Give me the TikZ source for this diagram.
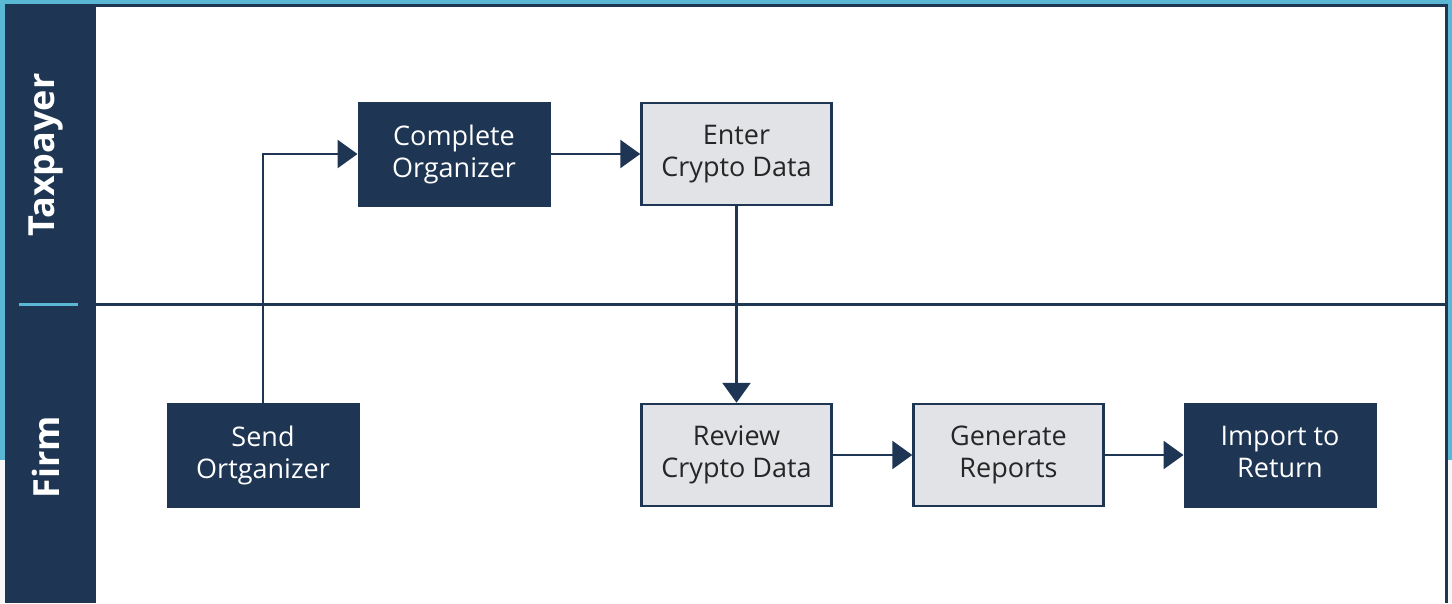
\documentclass[tikz,border=0pt]{standalone}
\usepackage{fontspec}
\setmainfont{Open Sans}
\usetikzlibrary{arrows.meta}
\definecolor{navy}{HTML}{1E3553}
\definecolor{lightfill}{HTML}{E1E3E6}
\definecolor{skyblue}{HTML}{5BB8D4}
\tikzset{
  darkbox/.style={draw=navy, line width=1pt, fill=navy, text=white, minimum width=192pt, minimum height=104pt, align=center, inner sep=0pt, font=\fontsize{27}{32}\selectfont},
  lightbox/.style={draw=navy, line width=2.5pt, fill=lightfill, text=black!85, minimum width=190pt, minimum height=102pt, align=center, inner sep=0pt, font=\fontsize{27}{32}\selectfont},
  flow/.style={draw=navy, line width=2.8pt, -{Triangle[length=20pt,width=28pt]}},
  lanelabel/.style={rotate=90, text=white, font=\fontsize{36}{40}\selectfont\bfseries},
}
\begin{document}
\begin{tikzpicture}[x=1pt,y=-1pt]
\useasboundingbox (0,0) rectangle (1452,603);
% outer frame
\fill[skyblue] (0,0) rectangle (1452,460);
\fill[white!97!black] (0,460) rectangle (1452,603);
\fill[white] (96,5) rectangle (1447,603);
\fill[navy] (5,4) rectangle (96,603);
\draw[navy, line width=3pt] (96,5.5) -- (1447,5.5);
\draw[navy, line width=3pt] (1446.5,4) -- (1446.5,603);
\draw[navy, line width=3pt] (96,304) -- (1446,304);
\draw[skyblue, line width=3pt] (19,304) -- (78,304);
% lane labels
\node[lanelabel] (lt) at (46,155) {Taxpayer};
\node[lanelabel] (lf) at (46,457) {Firm};
% boxes
\node[darkbox] (co) at (454,154) {Complete\\Organizer};
\node[lightbox] (ecd) at (736.5,154) {Enter\\Crypto Data};
\node[darkbox] (so) at (263,455) {Send\\Ortganizer};
\node[lightbox] (rcd) at (736.5,455) {Review\\Crypto Data};
\node[lightbox] (gr) at (1008.5,455) {Generate\\Reports};
\node[darkbox] (itr) at (1280,455) {\raisebox{0pt}[\height][0pt]{Import to}\\\rule{0pt}{0pt}Return\rule[-7pt]{0pt}{0pt}};
% connectors
\draw[flow] (so.north) |- (co.west);
\draw[flow] (co.east) -- (ecd.west);
\draw[flow] (ecd.south) -- (rcd.north);
\draw[flow] (rcd.east) -- (gr.west);
\draw[flow] (gr.east) -- (itr.west);
\end{tikzpicture}
\end{document}
